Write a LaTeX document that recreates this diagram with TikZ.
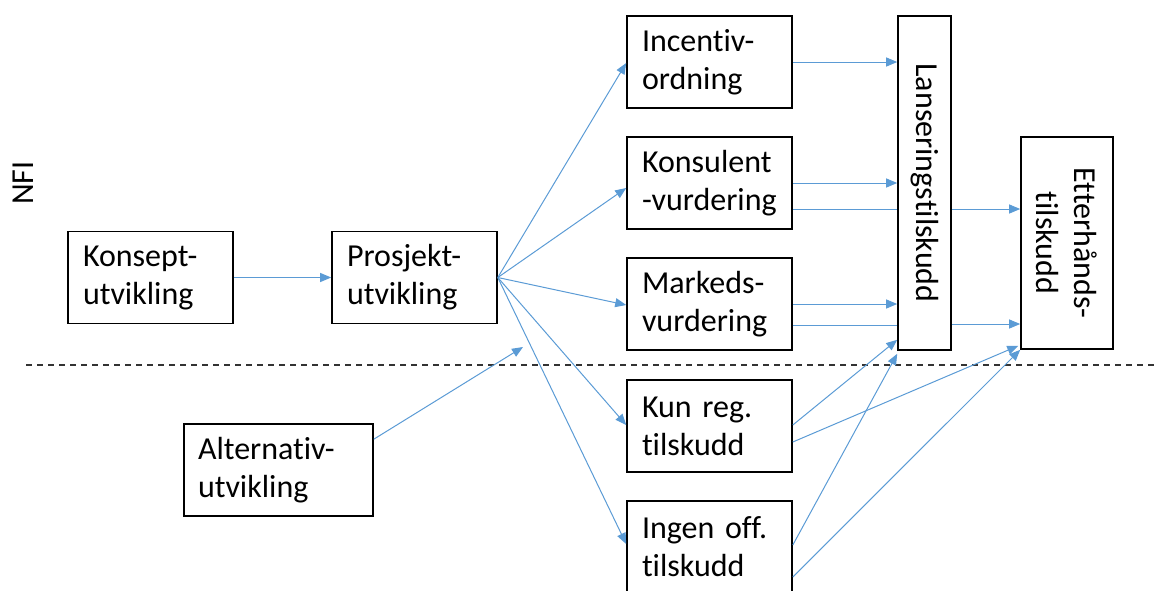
\documentclass[tikz,border=0pt]{standalone}
\usepackage{fontspec}
\setmainfont{Carlito}[Ligatures={NoCommon}]
\usetikzlibrary{arrows.meta,calc}
\definecolor{flow}{HTML}{5B9BD5}
\definecolor{sepline}{HTML}{333333}
\begin{document}
\begin{tikzpicture}[x=1pt,y=-1pt,
  every node/.style={font=\fontsize{32}{38}\selectfont},
  frame/.style={draw=black, line width=1.6pt, fill=white, inner sep=0pt},
  stage/.style={frame, minimum width=165pt, minimum height=92pt,
                text width=135pt, align=left},
  flowline/.style={draw=flow, line width=1pt},
  flowarrow/.style={flowline, -{Triangle[length=11pt,width=9pt]}},
  divider/.style={draw=sepline, line width=1.5pt, dash pattern=on 6pt off 5pt},
]
\useasboundingbox (0,0) rectangle (1159,590);

% side label
\node[rotate=90] (nfi) at (23,183) {NFI};

% separator between NFI stages and the rest
\coordinate (divl) at (26,365);
\coordinate (divr) at (1159,365);
\draw[divider] (divl) -- (divr);

% development stages
\node[stage] (konsept)  at (150.5,277.5) {Konsept-\\utvikling};
\node[stage] (prosjekt) at (414.5,277.5) {Prosjekt-\\utvikling};
\node[stage, minimum width=189pt, text width=161pt] (alt) at (278.5,470) {Alternativ-\\utvikling};

% assessment / support routes
\node[stage] (inc)  at (709.5,62)  {Incentiv-\\ordning};
\node[stage] (kons) at (709.5,183) {Konsulent\\\mbox{-vurdering}};
\node[stage] (mark) at (709.5,304) {Markeds-\\vurdering};
\node[stage] (kun)  at (709.5,426) {Kun reg.\\tilskudd};
\node[stage] (ing)  at (709.5,547) {Ingen off.\\tilskudd};

% grants
\node[frame, minimum width=53pt, minimum height=334pt] (lans) at (924.5,183) {};
\node[rotate=-90] (lanstext) at (lans) {Lanseringstilskudd};
\node[frame, minimum width=92pt, minimum height=212pt] (ett) at (1067,243) {};
\node[rotate=-90, align=center] (etttext) at (ett) {Etterhånds-\\tilskudd};

% main chain
\draw[flowarrow] (konsept) -- (prosjekt);
\coordinate (altend) at (523,347);
\draw[flowarrow] ($(alt.north east)+(0,16)$) -- (altend);

% fan out from project development
\draw[flowarrow] (prosjekt.east) -- ($(inc.west)+(0,1)$);
\draw[flowarrow] (prosjekt.east) -- ($(kons.west)+(0,5)$);
\draw[flowarrow] (prosjekt.east) -- ($(mark.west)+(0,1)$);
\draw[flowarrow] (prosjekt.east) -- ($(kun.west)+(0,-1)$);
\draw[flowarrow] (prosjekt.east) -- ($(ing.west)+(0,-3)$);

% into the launch grant
\draw[flowarrow] (inc.east) -- (inc.east -| lans.west);
\draw[flowarrow] (kons.east) -- (kons.east -| lans.west);
\draw[flowarrow] (mark.east) -- (mark.east -| lans.west);

% routes passing behind the launch grant to the follow-up grant
\draw[flowline]  ($(kons.east)+(0,26)$) -- ($(lans.west)+(0,26)$);
\draw[flowarrow] ($(lans.east)+(0,26)$) -- ($(ett.west)+(0,-34)$);
\draw[flowline]  ($(mark.east)+(0,21)$) -- ($(lans.west)+(0,142)$);
\draw[flowarrow] ($(lans.east)+(0,141)$) -- ($(ett.west)+(0,81)$);

% lower routes
\draw[flowarrow] ($(kun.east)+(0,-1)$) -- ($(lans.south west)+(0,-11)$);
\draw[flowarrow] ($(kun.east)+(0,16)$) -- ($(ett.south west)+(-2,-4)$);
\draw[flowarrow] ($(ing.east)+(0,-2)$) -- ($(lans.south west)+(0,3)$);
\draw[flowarrow] ($(ing.east)+(0,30)$) -- (ett.south west);
\end{tikzpicture}
\end{document}
